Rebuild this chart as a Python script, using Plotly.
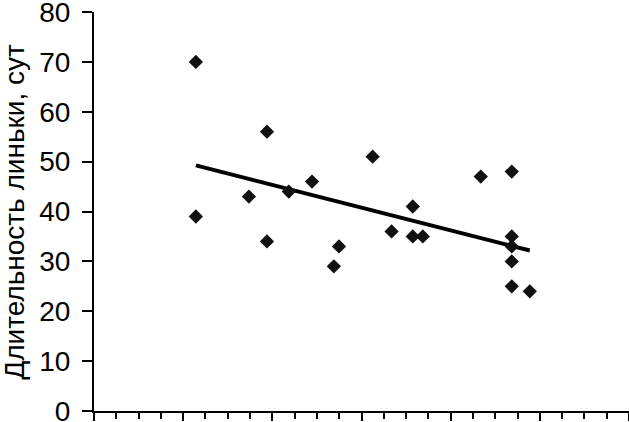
import numpy as np
import plotly.graph_objects as go

# Data
x_vals = [4.57, 4.57, 6.95, 7.76, 7.76, 8.74, 9.78, 10.76, 10.99, 12.5, 13.35,
          14.3, 14.3, 14.75, 17.35, 18.74, 18.74, 18.74, 18.74, 18.74, 19.55]
y_vals = [70, 39, 43, 56, 34, 44, 46, 29, 33, 51, 36,
          41, 35, 35, 47, 48, 35, 33, 30, 25, 24]
y_title = "Длительность линьки, сут"
y_ticks = [0, 10, 20, 30, 40, 50, 60, 70, 80]

# Linear trend from the data
slope, intercept = np.polyfit(x_vals, y_vals, 1)
tx = np.array([min(x_vals), max(x_vals)])
ty = slope * tx + intercept

fig = go.Figure()
fig.add_trace(go.Scatter(x=tx, y=ty, mode="lines",
                         line=dict(color="black", width=4),
                         showlegend=False, hoverinfo="skip"))
fig.add_trace(go.Scatter(x=x_vals, y=y_vals, mode="markers",
                         marker=dict(symbol="diamond", size=11, color="#111111"),
                         showlegend=False))

font_family = "Liberation Sans, Arial, sans-serif"

fig.update_layout(
    width=629, height=422,
    margin=dict(l=94, r=0, t=12, b=11),
    paper_bgcolor="white", plot_bgcolor="white",
    font=dict(family=font_family, size=28, color="black"),
    xaxis=dict(range=[0, 24], showgrid=False, zeroline=False, automargin=False,
               showline=True, linecolor="black", linewidth=2,
               ticks="outside", tickcolor="black", tickwidth=1.5, ticklen=8,
               tick0=0, dtick=4, showticklabels=False,
               minor=dict(ticks="outside", dtick=1, tick0=0, ticklen=6,
                          tickwidth=1.5, tickcolor="black", showgrid=False)),
    yaxis=dict(range=[0, 80], tickvals=y_ticks, showgrid=False, zeroline=False,
               automargin=False, ticklabeloverflow="allow",
               showline=True, linecolor="black", linewidth=2,
               ticks="outside", tickcolor="black", tickwidth=1.5, ticklen=10,
               ticklabelstandoff=6,
               tickfont=dict(size=28, family=font_family, color="black")),
    annotations=[dict(text=y_title, xref="paper", yref="paper",
                      x=-0.149, y=0.5, textangle=-90, showarrow=False,
                      xanchor="center", yanchor="middle",
                      font=dict(size=28, family=font_family, color="black"))],
)

fig.write_html("out.html",
               config={"displayModeBar": False},
               post_script="document.body.style.margin='0px';document.body.style.padding='0px';")
